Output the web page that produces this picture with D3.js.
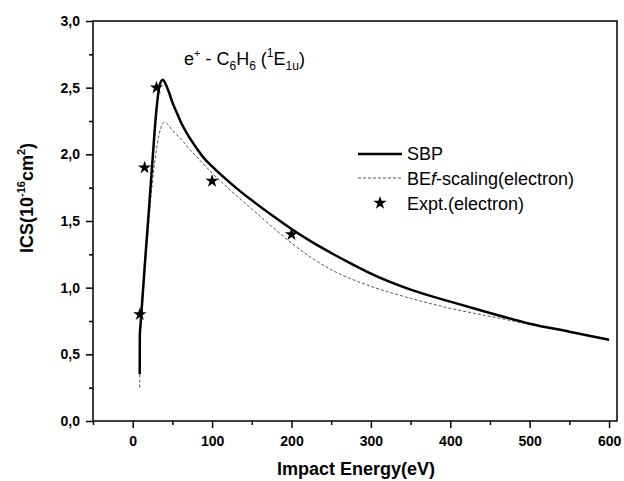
<!DOCTYPE html>
<html>
<head>
<meta charset="utf-8">
<script src="https://cdn.jsdelivr.net/npm/d3@7"></script>
<style>
  body { margin: 0; background: #fff; }
  svg { display: block; font-family: "Liberation Sans", Arial, sans-serif; }
</style>
</head>
<body>
<div id="chart"></div>
<script>
// SBP curve (positron impact, solid line)
const sbpEnergy = [8.8, 9, 10, 12, 15, 20, 25, 30, 34, 38, 42, 46, 50, 55, 60, 70, 80, 90, 100, 125, 150, 175, 200, 225, 250, 275, 300, 350, 400, 450, 500, 550, 600];
const sbpIcs    = [0.35, 0.65, 0.73, 0.90, 1.15, 1.55, 1.96, 2.34, 2.52, 2.56, 2.52, 2.46, 2.39, 2.32, 2.25, 2.14, 2.05, 1.97, 1.91, 1.775, 1.655, 1.545, 1.44, 1.345, 1.26, 1.18, 1.105, 0.985, 0.895, 0.81, 0.73, 0.67, 0.61];

// BEf-scaling (electron), dashed line
const befEnergy = [8.8, 9.5, 12, 15, 20, 25, 30, 35, 40, 45, 50, 60, 70, 84, 100, 125, 150, 175, 200, 225, 250, 300, 350, 400, 450, 500, 550, 600];
const befIcs    = [0.25, 0.60, 0.85, 1.10, 1.48, 1.80, 2.04, 2.19, 2.24, 2.22, 2.18, 2.12, 2.05, 1.96, 1.86, 1.72, 1.59, 1.46, 1.335, 1.225, 1.135, 1.01, 0.92, 0.845, 0.785, 0.725, 0.67, 0.61];

// experiment (electron), stars
const exptEnergy = [9, 15, 30, 100, 200];
const exptIcs    = [0.8, 1.9, 2.5, 1.8, 1.4];

const xTicks = [0, 100, 200, 300, 400, 500, 600];
const xMinor = [-50, 50, 150, 250, 350, 450, 550];
const yTicks = [0, 0.5, 1.0, 1.5, 2.0, 2.5, 3.0];
const yMinor = [0.25, 0.75, 1.25, 1.75, 2.25, 2.75];

const W = 624, H = 481;
const m = { left: 93, right: 617, top: 21, bottom: 421 };

const svg = d3.select("#chart").append("svg")
    .attr("width", W).attr("height", H);

const x = d3.scaleLinear().domain([-50, 610]).range([m.left, m.right]);
const y = d3.scaleLinear().domain([0, 3]).range([m.bottom, m.top]);

const comma = d => d3.format(".1f")(d).replace(".", ",");

// minor ticks
svg.append("g")
    .attr("transform", `translate(0,${m.bottom})`)
    .call(d3.axisBottom(x).tickValues(xMinor).tickSize(4).tickFormat(""))
    .call(g => g.select(".domain").remove())
    .selectAll("line").attr("stroke-width", 1.5);
svg.append("g")
    .attr("transform", `translate(${m.left},0)`)
    .call(d3.axisLeft(y).tickValues(yMinor).tickSize(4).tickFormat(""))
    .call(g => g.select(".domain").remove())
    .selectAll("line").attr("stroke-width", 1.5);

// major ticks
const xAxis = svg.append("g")
    .attr("transform", `translate(0,${m.bottom})`)
    .call(d3.axisBottom(x).tickValues(xTicks).tickSize(7).tickPadding(8).tickFormat(d3.format("d")));
const yAxis = svg.append("g")
    .attr("transform", `translate(${m.left},0)`)
    .call(d3.axisLeft(y).tickValues(yTicks).tickSize(7).tickPadding(6).tickFormat(comma));

[xAxis, yAxis].forEach(g => {
    g.select(".domain").remove();
    g.selectAll("line").attr("stroke-width", 1.5);
    g.selectAll("text")
        .attr("font-family", "Liberation Sans, Arial, sans-serif")
        .attr("font-size", 14).attr("font-weight", "bold").attr("fill", "#000");
});

// frame
svg.append("rect")
    .attr("x", m.left).attr("y", m.top)
    .attr("width", m.right - m.left).attr("height", m.bottom - m.top)
    .attr("fill", "none").attr("stroke", "#000").attr("stroke-width", 1.5);

const line = d3.line().curve(d3.curveMonotoneX).x(d => x(d[0])).y(d => y(d[1]));

svg.append("path")
    .datum(d3.zip(befEnergy, befIcs))
    .attr("fill", "none").attr("stroke", "#555")
    .attr("stroke-width", 1).attr("stroke-dasharray", "3,2")
    .attr("d", line);

svg.append("path")
    .datum(d3.zip(sbpEnergy, sbpIcs))
    .attr("fill", "none").attr("stroke", "#000")
    .attr("stroke-width", 2.5).attr("stroke-linejoin", "round")
    .attr("d", line);

const star = d3.symbol().type(d3.symbolStar).size(55);
svg.append("g").selectAll("path")
    .data(d3.zip(exptEnergy, exptIcs))
    .join("path")
    .attr("d", star)
    .attr("transform", d => `translate(${x(d[0])},${y(d[1])})`)
    .attr("fill", "#000");

// legend
const lg = svg.append("g").attr("font-size", 18);
lg.append("line").attr("x1", 358).attr("x2", 402).attr("y1", 154).attr("y2", 154)
    .attr("stroke", "#000").attr("stroke-width", 2.5);
lg.append("text").attr("x", 407).attr("y", 160).text("SBP");
lg.append("line").attr("x1", 358).attr("x2", 402).attr("y1", 178).attr("y2", 178)
    .attr("stroke", "#555").attr("stroke-width", 1).attr("stroke-dasharray", "3,2");
const t2 = lg.append("text").attr("x", 407).attr("y", 185);
t2.append("tspan").text("BE");
t2.append("tspan").attr("font-style", "italic").text("f");
t2.append("tspan").text("-scaling(electron)");
lg.append("path").attr("d", star).attr("transform", "translate(380,203)").attr("fill", "#000");
lg.append("text").attr("x", 407).attr("y", 210).text("Expt.(electron)");

// annotation
const ann = svg.append("text").attr("x", 184).attr("y", 65).attr("font-size", 18);
ann.append("tspan").text("e");
ann.append("tspan").attr("dy", -8).attr("font-size", 11).text("+");
ann.append("tspan").attr("dy", 8).text(" - C");
ann.append("tspan").attr("dy", 5).attr("font-size", 12).text("6");
ann.append("tspan").attr("dy", -5).text("H");
ann.append("tspan").attr("dy", 5).attr("font-size", 12).text("6");
ann.append("tspan").attr("dy", -5).text(" (");
ann.append("tspan").attr("dy", -8).attr("font-size", 12).text("1");
ann.append("tspan").attr("dy", 8).text("E");
ann.append("tspan").attr("dy", 5).attr("font-size", 12).text("1u");
ann.append("tspan").attr("dy", -5).text(")");

// axis titles
svg.append("text")
    .attr("x", 356).attr("y", 475)
    .attr("text-anchor", "middle")
    .attr("font-size", 18).attr("font-weight", "bold")
    .text("Impact Energy(eV)");

const yt = svg.append("text")
    .attr("transform", "translate(33,198) rotate(-90)")
    .attr("text-anchor", "middle")
    .attr("font-size", 18).attr("font-weight", "bold");
yt.append("tspan").text("ICS(10");
yt.append("tspan").attr("dy", -8).attr("font-size", 11).text("-16");
yt.append("tspan").attr("dy", 8).text("cm");
yt.append("tspan").attr("dy", -8).attr("font-size", 11).text("2");
yt.append("tspan").attr("dy", 8).text(")");
</script>
</body>
</html>
